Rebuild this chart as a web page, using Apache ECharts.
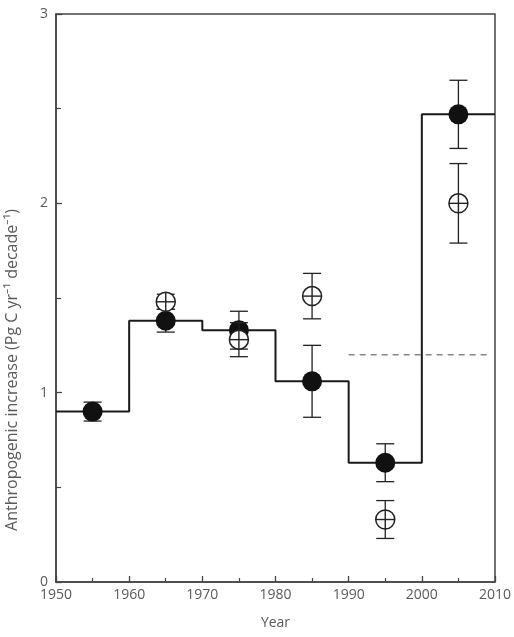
<!DOCTYPE html>
<html>
<head>
<meta charset="utf-8">
<script src="https://cdn.jsdelivr.net/npm/echarts@6/dist/echarts.min.js"></script>
<style>
html, body { margin: 0; padding: 0; background: #fff; }
#main { width: 514px; height: 637px; }
</style>
</head>
<body>
<div id="main"></div>
<script>
// decade means (filled) and alternative estimate (open)
var decadeYears = [1955, 1965, 1975, 1985, 1995, 2005];
var filledVals = [0.90, 1.38, 1.33, 1.06, 0.63, 2.47];
var filledErr = [0.05, 0.06, 0.10, 0.19, 0.10, 0.18];
var openYears = [1965, 1975, 1985, 1995, 2005];
var openVals = [1.48, 1.28, 1.51, 0.33, 2.00];
var openErr = [0.04, 0.09, 0.12, 0.10, 0.21];
// step line
var stepYears = [1950, 1960, 1970, 1980, 1990, 2000, 2010];
var stepVals = [0.90, 1.38, 1.33, 1.06, 0.63, 2.47, 2.47];
// dashed reference
var dashYears = [1990, 2009];
var dashVals = [1.2, 1.2];
var xTicks = [1950, 1960, 1970, 1980, 1990, 2000, 2010];
var yTicks = [0, 1, 2, 3];

var textColor = '#5a5a5a';
var fontFamily = '"Open Sans", "Noto Sans", sans-serif';

function zip(xs, ys) {
    return xs.map(function (x, i) { return [x, ys[i]]; });
}

function errBar(api, x, y, e, cap) {
    var top = api.coord([x, y + e]);
    var bot = api.coord([x, y - e]);
    var st = { stroke: '#222', lineWidth: 1.3 };
    return [
        { type: 'line', shape: { x1: top[0], y1: top[1], x2: bot[0], y2: bot[1] }, style: st },
        { type: 'line', shape: { x1: top[0] - cap, y1: top[1], x2: top[0] + cap, y2: top[1] }, style: st },
        { type: 'line', shape: { x1: bot[0] - cap, y1: bot[1], x2: bot[0] + cap, y2: bot[1] }, style: st }
    ];
}

var chart = echarts.init(document.getElementById('main'));
var option = {
    animation: false,
    backgroundColor: '#fff',
    grid: {
        left: 56, right: 17, top: 14, bottom: 55,
        show: true, borderColor: '#444', borderWidth: 1.5
    },
    xAxis: {
        type: 'value',
        min: 1950, max: 2010, interval: 10,
        name: 'Year',
        nameLocation: 'middle',
        nameGap: 34,
        nameTextStyle: { color: textColor, fontSize: 14, fontFamily: fontFamily },
        axisLine: { lineStyle: { color: '#444', width: 1.5 } },
        axisTick: { inside: true, length: 6, lineStyle: { color: '#444', width: 1.3 } },
        minorTick: { show: true, splitNumber: 2, length: 4, lineStyle: { color: '#444', width: 1.2 } },
        axisLabel: {
            color: textColor, fontSize: 14, fontFamily: fontFamily, margin: 6,
            formatter: function (v) { return xTicks.indexOf(v) >= 0 ? String(v) : ''; }
        },
        splitLine: { show: false }
    },
    yAxis: {
        type: 'value',
        min: 0, max: 3, interval: 1,
        axisLine: { lineStyle: { color: '#444', width: 1.5 } },
        axisTick: { inside: true, length: 6, lineStyle: { color: '#444', width: 1.3 } },
        minorTick: { show: true, splitNumber: 2, length: 5, lineStyle: { color: '#444', width: 1.2 } },
        axisLabel: {
            color: textColor, fontSize: 14, fontFamily: fontFamily, margin: 8,
            formatter: function (v) { return yTicks.indexOf(v) >= 0 ? String(v) : ''; }
        },
        splitLine: { show: false }
    },
    graphic: [{
        type: 'text',
        x: 12, y: 370,
        rotation: Math.PI / 2,
        style: {
            text: 'Anthropogenic increase (Pg C yr\u207B\u00B9 decade\u207B\u00B9)',
            fill: textColor, fontSize: 16, fontFamily: fontFamily,
            align: 'center', verticalAlign: 'middle'
        }
    }],
    series: [
        {
            type: 'line',
            data: zip(dashYears, dashVals),
            symbol: 'none',
            lineStyle: { color: '#888', width: 1.5, type: [6, 5] },
            z: 1
        },
        {
            type: 'line',
            data: zip(stepYears, stepVals),
            step: 'end',
            symbol: 'none',
            lineStyle: { color: '#1a1a1a', width: 2 },
            z: 2
        },
        {
            type: 'custom',
            data: decadeYears.map(function (x, i) { return [x, filledVals[i], filledErr[i]]; }),
            renderItem: function (params, api) {
                var x = api.value(0), y = api.value(1), e = api.value(2);
                var c = api.coord([x, y]);
                var kids = errBar(api, x, y, e, 9);
                kids.push({ type: 'circle', shape: { cx: c[0], cy: c[1], r: 10 }, style: { fill: '#111' } });
                return { type: 'group', children: kids };
            },
            z: 3
        },
        {
            type: 'custom',
            data: openYears.map(function (x, i) { return [x, openVals[i], openErr[i]]; }),
            renderItem: function (params, api) {
                var x = api.value(0), y = api.value(1), e = api.value(2);
                var c = api.coord([x, y]);
                var r = 9.5;
                var kids = errBar(api, x, y, e, 9);
                var st = { stroke: '#222', lineWidth: 1.4 };
                kids.push({ type: 'circle', shape: { cx: c[0], cy: c[1], r: r }, style: { fill: '#fff', stroke: '#222', lineWidth: 1.5 } });
                kids.push({ type: 'line', shape: { x1: c[0] - r, y1: c[1], x2: c[0] + r, y2: c[1] }, style: st });
                kids.push({ type: 'line', shape: { x1: c[0], y1: c[1] - r, x2: c[0], y2: c[1] + r }, style: st });
                return { type: 'group', children: kids };
            },
            z: 4
        }
    ]
};
chart.setOption(option);
</script>
</body>
</html>
